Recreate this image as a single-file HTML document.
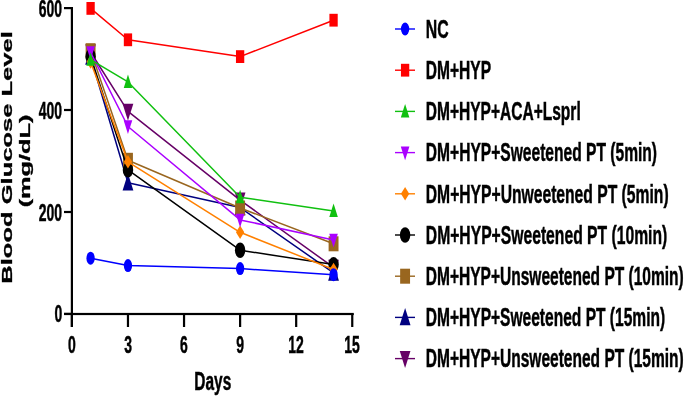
<!DOCTYPE html>
<html><head><meta charset="utf-8"><style>html,body{margin:0;padding:0;background:#fff;width:685px;height:396px;overflow:hidden}svg{display:block} text{filter:grayscale(1)}</style></head>
<body><svg width="685" height="396" viewBox="0 0 685 396">
<rect width="685" height="396" fill="#fff"/>
<g fill="#000">
<rect x="70.8" y="7.0" width="2.2" height="320"/>
<rect x="64" y="312.9" width="289.8" height="2.2"/>
<rect x="64" y="7.0" width="8" height="2.2"/>
<rect x="64" y="108.9" width="8" height="2.2"/>
<rect x="64" y="210.9" width="8" height="2.2"/>
<rect x="64" y="312.8" width="8" height="2.2"/>
<rect x="70.80" y="314" width="2.2" height="13"/>
<rect x="126.87" y="314" width="2.2" height="13"/>
<rect x="182.94" y="314" width="2.2" height="13"/>
<rect x="239.01" y="314" width="2.2" height="13"/>
<rect x="295.08" y="314" width="2.2" height="13"/>
<rect x="351.15" y="314" width="2.2" height="13"/>
</g>
<text font-family="Liberation Sans, sans-serif" font-weight="bold" stroke="#000" stroke-width="0.5" font-size="23.5" transform="translate(38.81,17.04) scale(0.5950,1)">600</text>
<text font-family="Liberation Sans, sans-serif" font-weight="bold" stroke="#000" stroke-width="0.5" font-size="23.5" transform="translate(38.81,118.64) scale(0.5950,1)">400</text>
<text font-family="Liberation Sans, sans-serif" font-weight="bold" stroke="#000" stroke-width="0.5" font-size="23.5" transform="translate(38.81,220.64) scale(0.5950,1)">200</text>
<text font-family="Liberation Sans, sans-serif" font-weight="bold" stroke="#000" stroke-width="0.5" font-size="23.5" transform="translate(54.47,322.24) scale(0.5950,1)">0</text>
<text font-family="Liberation Sans, sans-serif" font-weight="bold" stroke="#000" stroke-width="0.5" font-size="23.5" transform="translate(68.05,352.50) scale(0.5950,1)">0</text>
<text font-family="Liberation Sans, sans-serif" font-weight="bold" stroke="#000" stroke-width="0.5" font-size="23.5" transform="translate(124.19,352.50) scale(0.5950,1)">3</text>
<text font-family="Liberation Sans, sans-serif" font-weight="bold" stroke="#000" stroke-width="0.5" font-size="23.5" transform="translate(180.12,352.50) scale(0.5950,1)">6</text>
<text font-family="Liberation Sans, sans-serif" font-weight="bold" stroke="#000" stroke-width="0.5" font-size="23.5" transform="translate(236.19,352.50) scale(0.5950,1)">9</text>
<text font-family="Liberation Sans, sans-serif" font-weight="bold" stroke="#000" stroke-width="0.5" font-size="23.5" transform="translate(288.28,352.50) scale(0.5950,1)">12</text>
<text font-family="Liberation Sans, sans-serif" font-weight="bold" stroke="#000" stroke-width="0.5" font-size="23.5" transform="translate(344.28,352.50) scale(0.5950,1)">15</text>
<text font-family="Liberation Sans, sans-serif" font-weight="bold" stroke="#000" stroke-width="0.5" font-size="25.0" transform="translate(194.32,390.20) scale(0.6175,1)">Days</text>
<text font-family="Liberation Sans, sans-serif" font-weight="bold" stroke="#000" stroke-width="0.5" font-size="25.53" transform="translate(11.9,283.69) scale(0.6,1) rotate(-90)">Blood Glucose Level</text>
<text font-family="Liberation Sans, sans-serif" font-weight="bold" stroke="#000" stroke-width="0.5" font-size="25.35" transform="translate(30.2,207.37) scale(0.6,1) rotate(-90)">(mg/dL)</text>
<polyline points="90.59,52.00 127.97,111.40 240.11,200.10 333.56,267.40" fill="none" stroke="#660066" stroke-width="1.5" stroke-linejoin="round"/>
<polygon points="85.24,44.30 95.94,44.30 90.59,61.41" fill="#660066"/>
<polygon points="122.62,103.71 133.32,103.71 127.97,120.81" fill="#660066"/>
<polygon points="234.76,192.40 245.46,192.40 240.11,209.50" fill="#660066"/>
<polygon points="328.21,259.70 338.91,259.70 333.56,276.81" fill="#660066"/>
<polyline points="90.59,57.00 127.97,182.70 240.11,207.60 333.56,272.90" fill="none" stroke="#000080" stroke-width="1.5" stroke-linejoin="round"/>
<polygon points="90.59,47.54 95.99,64.74 85.19,64.74" fill="#000080"/>
<polygon points="127.97,173.24 133.37,190.44 122.57,190.44" fill="#000080"/>
<polygon points="240.11,198.14 245.51,215.34 234.71,215.34" fill="#000080"/>
<polygon points="333.56,263.44 338.96,280.64 328.16,280.64" fill="#000080"/>
<polyline points="90.59,50.70 127.97,160.30 240.11,208.00 333.56,243.80" fill="none" stroke="#99661f" stroke-width="1.5" stroke-linejoin="round"/>
<rect x="85.64" y="43.20" width="9.9" height="15" fill="#99661f"/>
<rect x="123.02" y="152.80" width="9.9" height="15" fill="#99661f"/>
<rect x="235.16" y="200.50" width="9.9" height="15" fill="#99661f"/>
<rect x="328.61" y="236.30" width="9.9" height="15" fill="#99661f"/>
<polyline points="90.59,56.50 127.97,169.90 240.11,250.20 333.56,264.60" fill="none" stroke="#000000" stroke-width="1.5" stroke-linejoin="round"/>
<ellipse cx="90.59" cy="56.50" rx="5.2" ry="7.7" fill="#000000"/>
<ellipse cx="127.97" cy="169.90" rx="5.2" ry="7.7" fill="#000000"/>
<ellipse cx="240.11" cy="250.20" rx="5.2" ry="7.7" fill="#000000"/>
<ellipse cx="333.56" cy="264.60" rx="5.2" ry="7.7" fill="#000000"/>
<polyline points="90.59,62.10 127.97,161.80 240.11,232.30 333.56,269.50" fill="none" stroke="#ff8000" stroke-width="1.5" stroke-linejoin="round"/>
<polygon points="90.59,55.35 94.74,62.10 90.59,68.85 86.44,62.10" fill="#ff8000"/>
<polygon points="127.97,155.05 132.12,161.80 127.97,168.55 123.82,161.80" fill="#ff8000"/>
<polygon points="240.11,225.55 244.26,232.30 240.11,239.05 235.96,232.30" fill="#ff8000"/>
<polygon points="333.56,262.75 337.71,269.50 333.56,276.25 329.41,269.50" fill="#ff8000"/>
<polyline points="90.59,52.40 127.97,126.50 240.11,219.90 333.56,239.90" fill="none" stroke="#aa00ff" stroke-width="1.5" stroke-linejoin="round"/>
<polygon points="86.29,46.23 94.89,46.23 90.59,59.94" fill="#aa00ff"/>
<polygon points="123.67,120.34 132.27,120.34 127.97,134.03" fill="#aa00ff"/>
<polygon points="235.81,213.74 244.41,213.74 240.11,227.44" fill="#aa00ff"/>
<polygon points="329.26,233.74 337.86,233.74 333.56,247.44" fill="#aa00ff"/>
<polyline points="90.59,59.70 127.97,81.90 240.11,197.20 333.56,210.90" fill="none" stroke="#10c010" stroke-width="1.5" stroke-linejoin="round"/>
<polygon points="90.59,52.33 94.84,65.73 86.34,65.73" fill="#10c010"/>
<polygon points="127.97,74.53 132.22,87.93 123.72,87.93" fill="#10c010"/>
<polygon points="240.11,189.83 244.36,203.23 235.86,203.23" fill="#10c010"/>
<polygon points="333.56,203.53 337.81,216.93 329.31,216.93" fill="#10c010"/>
<polyline points="90.59,8.40 127.97,39.80 240.11,56.60 333.56,20.20" fill="none" stroke="#ff0000" stroke-width="1.5" stroke-linejoin="round"/>
<rect x="86.44" y="2.00" width="8.3" height="12.8" fill="#ff0000"/>
<rect x="123.82" y="33.40" width="8.3" height="12.8" fill="#ff0000"/>
<rect x="235.96" y="50.20" width="8.3" height="12.8" fill="#ff0000"/>
<rect x="329.41" y="13.80" width="8.3" height="12.8" fill="#ff0000"/>
<polyline points="90.59,258.20 127.97,265.60 240.11,268.60 333.56,274.70" fill="none" stroke="#0000ff" stroke-width="1.5" stroke-linejoin="round"/>
<ellipse cx="90.59" cy="258.20" rx="4.15" ry="6.5" fill="#0000ff"/>
<ellipse cx="127.97" cy="265.60" rx="4.15" ry="6.5" fill="#0000ff"/>
<ellipse cx="240.11" cy="268.60" rx="4.15" ry="6.5" fill="#0000ff"/>
<ellipse cx="333.56" cy="274.70" rx="4.15" ry="6.5" fill="#0000ff"/>
<line x1="395" y1="29.00" x2="415" y2="29.00" stroke="#0000ff" stroke-width="1.4"/>
<ellipse cx="405.10" cy="29.00" rx="4.15" ry="6.5" fill="#0000ff"/>
<text font-family="Liberation Sans, sans-serif" font-weight="bold" stroke="#000" stroke-width="0.5" font-size="26" transform="translate(425.79,37.80) scale(0.6085,1)">NC</text>
<line x1="395" y1="70.20" x2="415" y2="70.20" stroke="#ff0000" stroke-width="1.4"/>
<rect x="400.95" y="63.80" width="8.3" height="12.8" fill="#ff0000"/>
<text font-family="Liberation Sans, sans-serif" font-weight="bold" stroke="#000" stroke-width="0.5" font-size="26" transform="translate(425.81,79.00) scale(0.5990,1)">DM+HYP</text>
<line x1="395" y1="111.40" x2="415" y2="111.40" stroke="#10c010" stroke-width="1.4"/>
<polygon points="405.10,104.03 409.35,117.43 400.85,117.43" fill="#10c010"/>
<text font-family="Liberation Sans, sans-serif" font-weight="bold" stroke="#000" stroke-width="0.5" font-size="26" transform="translate(425.81,120.20) scale(0.5975,1)">DM+HYP+ACA+Lsprl</text>
<line x1="395" y1="152.60" x2="415" y2="152.60" stroke="#aa00ff" stroke-width="1.4"/>
<polygon points="400.80,146.44 409.40,146.44 405.10,160.14" fill="#aa00ff"/>
<text font-family="Liberation Sans, sans-serif" font-weight="bold" stroke="#000" stroke-width="0.5" font-size="26" transform="translate(425.81,161.40) scale(0.5999,1)">DM+HYP+Sweetened PT (5min)</text>
<line x1="395" y1="193.80" x2="415" y2="193.80" stroke="#ff8000" stroke-width="1.4"/>
<polygon points="405.10,187.05 409.25,193.80 405.10,200.55 400.95,193.80" fill="#ff8000"/>
<text font-family="Liberation Sans, sans-serif" font-weight="bold" stroke="#000" stroke-width="0.5" font-size="26" transform="translate(425.80,202.60) scale(0.6027,1)">DM+HYP+Unweetened PT (5min)</text>
<line x1="395" y1="235.00" x2="415" y2="235.00" stroke="#000000" stroke-width="1.4"/>
<ellipse cx="405.10" cy="235.00" rx="5.2" ry="7.7" fill="#000000"/>
<text font-family="Liberation Sans, sans-serif" font-weight="bold" stroke="#000" stroke-width="0.5" font-size="26" transform="translate(425.80,243.80) scale(0.6035,1)">DM+HYP+Sweetened PT (10min)</text>
<line x1="395" y1="276.20" x2="415" y2="276.20" stroke="#99661f" stroke-width="1.4"/>
<rect x="400.15" y="268.70" width="9.9" height="15" fill="#99661f"/>
<text font-family="Liberation Sans, sans-serif" font-weight="bold" stroke="#000" stroke-width="0.5" font-size="26" transform="translate(425.81,285.00) scale(0.5974,1)">DM+HYP+Unsweetened PT (10min)</text>
<line x1="395" y1="317.40" x2="415" y2="317.40" stroke="#000080" stroke-width="1.4"/>
<polygon points="405.10,307.94 410.50,325.14 399.70,325.14" fill="#000080"/>
<text font-family="Liberation Sans, sans-serif" font-weight="bold" stroke="#000" stroke-width="0.5" font-size="26" transform="translate(425.81,326.20) scale(0.5985,1)">DM+HYP+Sweetened PT (15min)</text>
<line x1="395" y1="358.60" x2="415" y2="358.60" stroke="#660066" stroke-width="1.4"/>
<polygon points="399.75,350.91 410.45,350.91 405.10,368.01" fill="#660066"/>
<text font-family="Liberation Sans, sans-serif" font-weight="bold" stroke="#000" stroke-width="0.5" font-size="26" transform="translate(425.81,367.40) scale(0.5974,1)">DM+HYP+Unsweetened PT (15min)</text>
</svg></body></html>
